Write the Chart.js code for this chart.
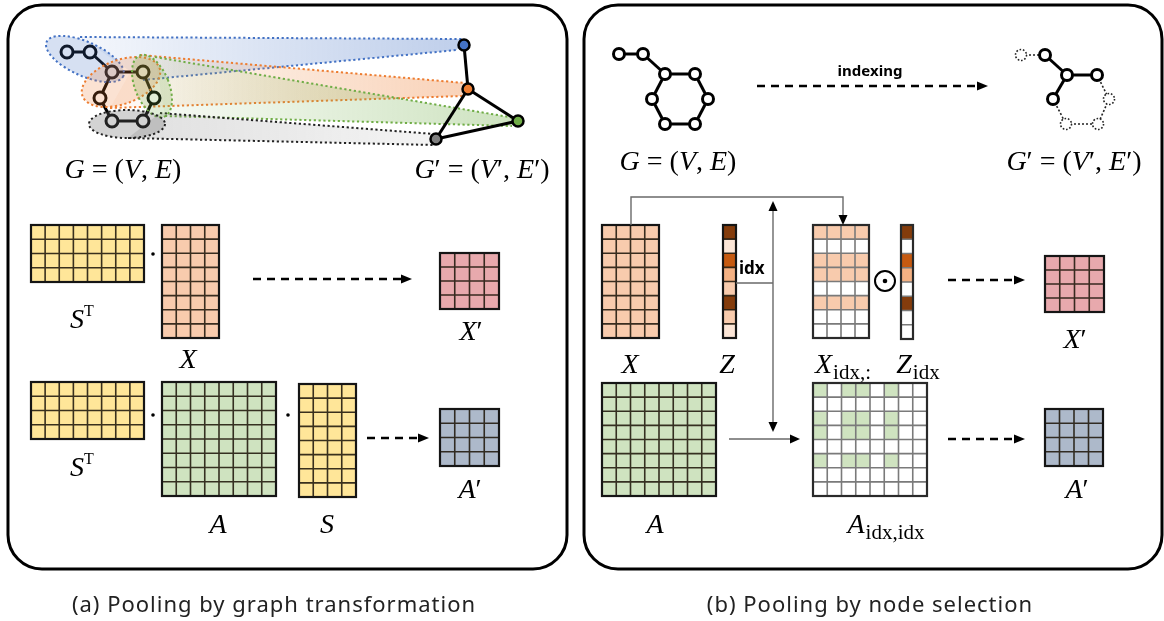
<!DOCTYPE html>
<html><head><meta charset="utf-8">
<script src="https://cdn.jsdelivr.net/npm/chart.js@4.4.1/dist/chart.umd.min.js"></script>
<style>html,body{margin:0;padding:0;background:#fff;overflow:hidden}#wrap{width:1164px;height:621px}</style>
</head><body><div id="wrap"><canvas id="c" width="1164" height="621"></canvas></div>
<script>
// ---------------- data ----------------
const captions = ["(a) Pooling by graph transformation", "(b) Pooling by node selection"];
// original graph G (left panel)
const gX = [67, 90, 112, 143, 100, 154, 112, 143];
const gY = [52, 52, 72, 72, 98, 98, 121, 121];
const gEdges = [[0,1],[1,2],[2,3],[2,4],[3,5],[4,6],[5,7],[6,7]];
// coarsened graph G' (left panel)
const cX = [464, 468, 518, 436];
const cY = [45, 89, 121, 139];
const cEdges = [[0,1],[1,2],[1,3],[3,2]];
// original graph G (right panel)
const hX = [619, 643, 665, 695, 652, 708, 665, 695];
const hY = [54, 54, 74, 74, 99, 99, 124, 124];
// indexed graph G' (right panel)
const iX = [1021, 1045, 1067, 1097, 1053, 1109, 1066, 1098];
const iY = [55, 55, 75, 75, 99, 99, 124, 124];
const iKept = [0, 1, 1, 1, 1, 0, 0, 0];
// node scores Z and selected indices
const zScore = [0.95, 0.1, 0.75, 0.5, 0.3, 0.9, 0.3, 0.1];
const selIdx = [0, 2, 3, 5];

// ---------------- styles ----------------
const C = {
  yellow: '#FFE699', peach: '#F8CBAD', pink: '#E8A9AD', green: '#CFE3C0', slate: '#ADB9CA',
  blue: '#4472C4', orange: '#ED7D31', lgreen: '#70AD47', gray: '#7F7F7F'
};
const clusterColors = [[68,114,196],[237,125,49],[112,173,71],[110,110,110]];
const clusterDot = ['#4472C4','#ED7D31','#70AD47','#222222'];
function zColor(v){ if(v>0.85) return '#843C0C'; if(v>0.6) return '#C55A11'; if(v>0.4) return '#F4B183'; if(v>0.2) return '#F8CBAD'; return '#FBE5D6'; }

// cluster ellipses [cx, cy, rx, ry, rot] and bands [topStart, topEnd, botEnd, botStart]
const ellipses = [
  [85, 59, 42, 17, 0.42],
  [121, 82, 41, 22, -0.35],
  [152, 86, 17, 33, -0.38],
  [127, 124, 38, 14, 0]
];
const bands = [
  [[80,37],[463,39],[457,50],[143,80]],
  [[140,55],[465,83],[463,96],[110,108]],
  [[155,57],[515,118],[512,126],[165,116]],
  [[160,113],[434,134],[434,145],[128,138]]
];

// matrices: [x0,y0,x1,y1, rows, cols, fillFn, inner line colour]
const sel = new Set(selIdx);
const matrices = [
  [31,225,144,282, 4,8, ()=>C.yellow],
  [162,225,219,338, 8,4, ()=>C.peach],
  [440,253,499,309, 4,4, ()=>C.pink],
  [31,382,144,439, 4,8, ()=>C.yellow],
  [162,382,276,496, 8,8, ()=>C.green],
  [299,384,356,497, 8,4, ()=>C.yellow],
  [440,409,499,466, 4,4, ()=>C.slate],
  [602,225,659,338, 8,4, ()=>C.peach],
  [723,225,736,338, 8,1, (r)=>zColor(zScore[r])],
  [813,225,869,338, 8,4, (r)=>sel.has(r)?C.peach:'#fff', '#7a7a7a'],
  [901,225,913,339, 8,1, (r)=>sel.has(r)?zColor(zScore[r]):'#fff', '#7a7a7a'],
  [1045,256,1104,312, 4,4, ()=>C.pink],
  [602,383,716,496, 8,8, ()=>C.green],
  [813,383,927,496, 8,8, (r,c)=>(sel.has(r)&&sel.has(c))?C.green:'#fff', '#7a7a7a'],
  [1045,409,1103,466, 4,4, ()=>C.slate]
];

const SERIF = "'Liberation Serif', 'DejaVu Serif', serif";
// labels: [runs, x, y(baseline)]
const I = 'i', R = 'r', SUB = 's', SUP = 'p';
const labels = [
  [[['G',I],[' = (',R],['V',I],[', ',R],['E',I],[')',R]], 123, 178],
  [[['G',I],['′ = (',R],['V',I],['′, ',R],['E',I],['′)',R]], 482, 178],
  [[['S',I],['T',SUP]], 82, 328],
  [[['X',I]], 188, 368],
  [[['X',I],['′',R]], 471, 340],
  [[['S',I],['T',SUP]], 82, 476],
  [[['A',I]], 218, 533],
  [[['S',I]], 327, 533],
  [[['A',I],['′',R]], 470, 498],
  [[['G',I],[' = (',R],['V',I],[', ',R],['E',I],[')',R]], 678, 170],
  [[['G',I],['′ = (',R],['V',I],['′, ',R],['E',I],['′)',R]], 1074, 170],
  [[['X',I]], 630, 373],
  [[['Z',I]], 727, 373],
  [[['X',I],['idx,:',SUB]], 843, 373],
  [[['Z',I],['idx',SUB]], 918, 373],
  [[['X',I],['′',R]], 1075, 348],
  [[['A',I]], 655, 533],
  [[['A',I],['idx,idx',SUB]], 886, 533],
  [[['A',I],['′',R]], 1077, 498]
];
// arrows [x1,y1,x2,y2]
const dashedArrows = [
  [253,279,412,279], [367,438,429,438], [757,86,988,86], [948,280,1025,280], [948,439,1025,439]
];

// ---------------- datasets ----------------
const datasets = [];
function edgeDs(xs, ys, e, opts){
  return Object.assign({data:[{x:xs[e[0]],y:ys[e[0]]},{x:xs[e[1]],y:ys[e[1]]}], showLine:true, pointRadius:0,
    borderColor:'#000', borderWidth:3, order:3}, opts||{});
}
gEdges.forEach(e=>datasets.push(edgeDs(gX,gY,e)));
cEdges.forEach(e=>datasets.push(edgeDs(cX,cY,e)));
gEdges.forEach(e=>datasets.push(edgeDs(hX,hY,e)));
gEdges.forEach(e=>{
  const solid = iKept[e[0]] && iKept[e[1]];
  datasets.push(edgeDs(iX,iY,e, solid?{}:{borderWidth:1.6,borderDash:[2,2],borderColor:'#222'}));
});
datasets.push({data:gX.map((x,i)=>({x,y:gY[i]})), pointRadius:6, pointBorderWidth:3, pointBackgroundColor:'#fff', pointBorderColor:'#000', order:1});
datasets.push({data:cX.map((x,i)=>({x,y:cY[i]})), pointRadius:5.5, pointBorderWidth:2.5, pointBackgroundColor:[C.blue,C.orange,C.lgreen,C.gray], pointBorderColor:'#000', order:1});
datasets.push({data:hX.map((x,i)=>({x,y:hY[i]})), pointRadius:5.5, pointBorderWidth:3, pointBackgroundColor:'#fff', pointBorderColor:'#000', order:1});
datasets.push({data:iX.map((x,i)=>({x,y:iY[i]})).filter((p,i)=>iKept[i]), pointRadius:5.5, pointBorderWidth:3, pointBackgroundColor:'#fff', pointBorderColor:'#000', order:1});

// ---------------- drawing plugin ----------------
const diagram = {
  id:'diagram',
  beforeDatasetsDraw(chart){
    const ctx = chart.ctx, sx = chart.scales.x, sy = chart.scales.y;
    const X = v=>sx.getPixelForValue(v), Y = v=>sy.getPixelForValue(v);
    ctx.save();
    // panels
    ctx.lineWidth = 3; ctx.strokeStyle = '#000';
    [[8,5,567,569],[584,5,1162,569]].forEach(p=>{
      ctx.beginPath(); ctx.roundRect(X(p[0]),Y(p[1]),X(p[2])-X(p[0]),Y(p[3])-Y(p[1]),34); ctx.stroke();
    });
    // bands
    bands.forEach((b,k)=>{
      const col = clusterColors[k];
      const g = ctx.createLinearGradient(X(b[0][0]),0,X(b[1][0]),0);
      const a0 = k===3?0.2:0.06, a1 = k===3?0.08:0.34;
      g.addColorStop(0,`rgba(${col},${a0})`); g.addColorStop(1,`rgba(${col},${a1})`);
      ctx.beginPath(); b.forEach((p,i)=>i?ctx.lineTo(X(p[0]),Y(p[1])):ctx.moveTo(X(p[0]),Y(p[1]))); ctx.closePath();
      ctx.fillStyle = g; ctx.fill();
      ctx.setLineDash([2.2,2.6]); ctx.lineWidth = 2; ctx.strokeStyle = clusterDot[k];
      ctx.beginPath(); ctx.moveTo(X(b[0][0]),Y(b[0][1])); ctx.lineTo(X(b[1][0]),Y(b[1][1]));
      ctx.moveTo(X(b[3][0]),Y(b[3][1])); ctx.lineTo(X(b[2][0]),Y(b[2][1])); ctx.stroke();
      ctx.setLineDash([]);
    });
    // matrices
    matrices.forEach(m=>{
      const [x0,y0,x1,y1,rows,cols,fill,lc] = m;
      const px0=X(x0), py0=Y(y0), px1=X(x1), py1=Y(y1);
      const cw=(px1-px0)/cols, ch=(py1-py0)/rows;
      for(let r=0;r<rows;r++) for(let c=0;c<cols;c++){
        ctx.fillStyle = fill(r,c); ctx.fillRect(px0+c*cw, py0+r*ch, cw+0.5, ch+0.5);
      }
      ctx.strokeStyle = lc || 'rgba(35,28,15,0.9)'; ctx.lineWidth = 1.6;
      ctx.beginPath();
      for(let r=1;r<rows;r++){ ctx.moveTo(px0,py0+r*ch); ctx.lineTo(px1,py0+r*ch); }
      for(let c=1;c<cols;c++){ ctx.moveTo(px0+c*cw,py0); ctx.lineTo(px0+c*cw,py1); }
      ctx.stroke();
      ctx.strokeStyle = lc ? '#2a2a2a' : '#151515'; ctx.lineWidth = 2.2;
      ctx.strokeRect(px0,py0,px1-px0,py1-py0);
    });
    // multiplication dots
    ctx.fillStyle = '#000';
    [[153,254],[153,415],[288,415]].forEach(p=>{ctx.beginPath();ctx.arc(X(p[0]),Y(p[1]),1.8,0,7);ctx.fill();});
    // odot
    ctx.lineWidth = 2; ctx.strokeStyle = '#000';
    ctx.beginPath(); ctx.arc(X(885),Y(281),10,0,7); ctx.stroke();
    ctx.beginPath(); ctx.arc(X(885),Y(281),2.3,0,7); ctx.fill();
    // arrows
    function head(x,y,ang,len,w,color){
      ctx.fillStyle = color; ctx.beginPath();
      ctx.moveTo(x,y);
      ctx.lineTo(x-len*Math.cos(ang)+w*Math.sin(ang), y-len*Math.sin(ang)-w*Math.cos(ang));
      ctx.lineTo(x-len*Math.cos(ang)-w*Math.sin(ang), y-len*Math.sin(ang)+w*Math.cos(ang));
      ctx.closePath(); ctx.fill();
    }
    dashedArrows.forEach(a=>{
      const x1=X(a[0]),y1=Y(a[1]),x2=X(a[2]),y2=Y(a[3]);
      ctx.setLineDash([8,6]); ctx.lineWidth=2.5; ctx.strokeStyle='#000';
      ctx.beginPath(); ctx.moveTo(x1,y1); ctx.lineTo(x2-9,y2); ctx.stroke(); ctx.setLineDash([]);
      head(x2,y2,0,11,4.5,'#000');
    });
    // gray connectors
    ctx.strokeStyle = '#6a6a6a'; ctx.lineWidth = 1.4;
    ctx.beginPath();
    ctx.moveTo(X(631),Y(225)); ctx.lineTo(X(631),Y(197)); ctx.lineTo(X(843),Y(197)); ctx.lineTo(X(843),Y(216));
    ctx.moveTo(X(773),Y(210)); ctx.lineTo(X(773),Y(424));
    ctx.moveTo(X(736),Y(283)); ctx.lineTo(X(773),Y(283));
    ctx.moveTo(X(729),Y(439)); ctx.lineTo(X(791),Y(439));
    ctx.stroke();
    head(X(843),Y(225),Math.PI/2,10,4.5,'#000');
    head(X(773),Y(201),-Math.PI/2,10,4.5,'#000');
    head(X(773),Y(432),Math.PI/2,10,4.5,'#000');
    head(X(800),Y(439),0,10,4.5,'#000');
    ctx.restore();
  },
  afterDatasetsDraw(chart){
    const ctx = chart.ctx, sx = chart.scales.x, sy = chart.scales.y;
    const X = v=>sx.getPixelForValue(v), Y = v=>sy.getPixelForValue(v);
    ctx.save();
    // cluster ellipses over nodes
    ellipses.forEach((e,k)=>{
      const col = clusterColors[k];
      ctx.beginPath(); ctx.ellipse(X(e[0]),Y(e[1]),e[2],e[3],e[4],0,Math.PI*2);
      ctx.fillStyle = `rgba(${col},${k===3?0.3:0.22})`; ctx.fill();
      ctx.setLineDash([2.2,2.6]); ctx.lineWidth = 2; ctx.strokeStyle = clusterDot[k]; ctx.stroke();
      ctx.setLineDash([]);
    });
    // removed nodes (dotted)
    ctx.setLineDash([1.6,1.8]); ctx.lineWidth = 1.6; ctx.strokeStyle = '#222'; ctx.fillStyle = '#fff';
    iX.forEach((x,i)=>{ if(iKept[i]) return; ctx.beginPath(); ctx.arc(X(x),Y(iY[i]),5.5,0,7); ctx.fill(); ctx.stroke(); });
    ctx.setLineDash([]);
    // labels
    ctx.fillStyle = '#000'; ctx.textBaseline = 'alphabetic';
    const fonts = {i:'italic 28px '+SERIF, r:'28px '+SERIF, s:'21px '+SERIF, p:'16px '+SERIF};
    labels.forEach(l=>{
      const [runs, cx, by] = l;
      let w = 0; runs.forEach(r=>{ctx.font=fonts[r[1]]; w+=ctx.measureText(r[0]).width + (r[1]==='s'?1:0);});
      let x = X(cx) - w/2;
      runs.forEach(r=>{
        ctx.font = fonts[r[1]]; ctx.textAlign='left';
        const dy = r[1]==='s'?6:(r[1]==='p'?-12:0);
        ctx.fillText(r[0], x + (r[1]==='s'?1:0), Y(by)+dy);
        x += ctx.measureText(r[0]).width + (r[1]==='s'?1:0);
      });
    });
    // sans labels
    ctx.textAlign = 'center';
    ctx.font = "bold 15px 'Noto Sans', sans-serif"; ctx.fillText('indexing', X(870), Y(76));
    ctx.font = "bold 17px 'Noto Sans', sans-serif"; ctx.textAlign='left'; ctx.fillText('idx', X(739), Y(274));
    ctx.textAlign = 'center'; ctx.fillStyle = '#222';
    ctx.font = "22px 'Noto Sans', sans-serif";
    ctx.letterSpacing = '1px';
    ctx.fillText(captions[0], X(274), Y(612));
    ctx.fillText(captions[1], X(870), Y(612));
    ctx.restore();
  }
};

new Chart(document.getElementById('c'), {
  type:'scatter',
  data:{datasets},
  options:{
    responsive:false, animation:false, devicePixelRatio:1,
    layout:{padding:0, autoPadding:false},
    plugins:{legend:{display:false}, tooltip:{enabled:false}},
    scales:{
      x:{type:'linear', min:0, max:1164, display:false},
      y:{type:'linear', min:0, max:621, reverse:true, display:false}
    }
  },
  plugins:[diagram]
});
</script></body></html>
